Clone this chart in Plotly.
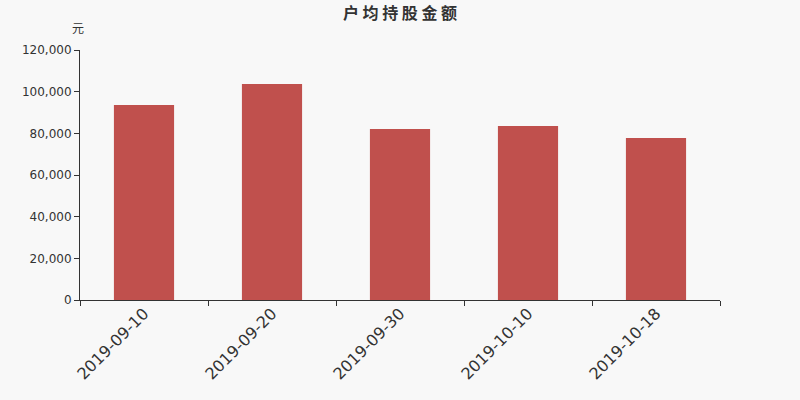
import plotly.graph_objects as go

categories = ["2019-09-10", "2019-09-20", "2019-09-30", "2019-10-10", "2019-10-18"]
values = [93600, 103680, 82080, 83520, 77760]
y_ticks = [0, 20000, 40000, 60000, 80000, 100000, 120000]
y_tick_labels = ["0", "20,000", "40,000", "60,000", "80,000", "100,000", "120,000"]

W, H = 800, 400

fig = go.Figure(go.Bar(x=categories, y=values, marker=dict(color="#c0504d", line=dict(width=0)), width=0.47))

fig.update_layout(
    width=W, height=H,
    paper_bgcolor="#f8f8f8", plot_bgcolor="#f8f8f8",
    margin=dict(l=80, r=80, t=50, b=100, autoexpand=False),
    font=dict(family="DejaVu Sans, Noto Sans CJK SC", size=12, color="#333"),
    title=dict(text="<b>户 均 持 股 金 额</b>", x=0.5, xanchor="center",
               y=1 - 13 / H, yanchor="middle",
               font=dict(family="Noto Sans CJK SC, DejaVu Sans", size=16, color="#333")),
    showlegend=False,
)
fig.update_xaxes(type="category", tickson="boundaries", ticks="outside", ticklen=5, tickcolor="#333",
                 showline=True, linecolor="#333", linewidth=1, tickangle=-45, ticklabelstandoff=-3,
                 tickfont=dict(size=16, color="#333"), showgrid=False, automargin=False)
fig.update_yaxes(range=[0, 120000], tickvals=y_ticks, ticktext=y_tick_labels, ticks="outside", ticklen=5,
                 tickcolor="#333", showline=True, linecolor="#333", linewidth=1, showgrid=False,
                 zeroline=False, tickfont=dict(size=12, color="#333"), automargin=False)
fig.add_annotation(text="元", xref="paper", yref="paper", x=(78 - 80) / 640, y=(300 - 28) / 250,
                   showarrow=False, xanchor="center", yanchor="middle",
                   font=dict(family="Noto Sans CJK SC", size=12, color="#333"))

fig.write_html("out.html", config={"displayModeBar": False},
               post_script="document.body.style.margin='0px';document.body.style.background='#f8f8f8';")
